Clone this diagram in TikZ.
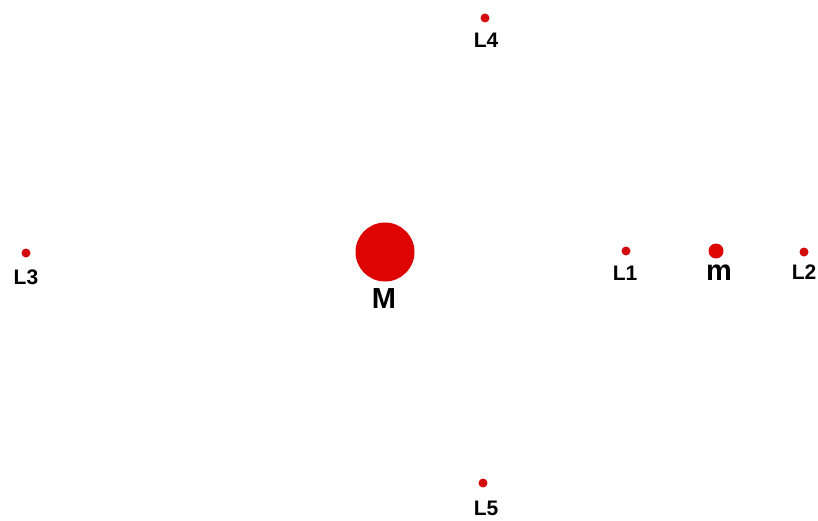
\documentclass[tikz,border=0pt]{standalone}
\usepackage{fontspec}
\setmainfont{Liberation Sans}
\definecolor{bigred}{RGB}{222,4,4}
\definecolor{dotred}{RGB}{210,12,12}
\begin{document}
\begin{tikzpicture}[x=1pt,y=-1pt,
  pointdot/.style={circle,fill=dotred,inner sep=0pt,minimum size=9pt},
  lbl/.style={anchor=base,inner sep=0pt,font=\bfseries\fontsize{21}{21}\selectfont},
  biglbl/.style={anchor=base,inner sep=0pt,font=\bfseries\fontsize{29}{29}\selectfont}]
\useasboundingbox[fill=white] (0,0) rectangle (818,521);
% masses
\node[circle,fill=bigred,inner sep=0pt,minimum size=59pt] (M) at (385,252) {};
\node[biglbl] (Mlbl) at (384,308) {M};
\node[circle,fill=bigred,inner sep=0pt,minimum size=15pt] (m) at (716,251) {};
\node[biglbl] (mlbl) at (719,280) {m};
% Lagrange points
\node[pointdot] (L1) at (626,251) {};
\node[lbl] (L1lbl) at (625,280) {L1};
\node[pointdot] (L2) at (804,252) {};
\node[lbl] (L2lbl) at (804,279) {L2};
\node[pointdot] (L3) at (26,253) {};
\node[lbl] (L3lbl) at (26,284) {L3};
\node[pointdot] (L4) at (485,18) {};
\node[lbl] (L4lbl) at (486,48) {L4};
\node[pointdot] (L5) at (483,483) {};
\node[lbl] (L5lbl) at (486,515) {L5};
\end{tikzpicture}
\end{document}
